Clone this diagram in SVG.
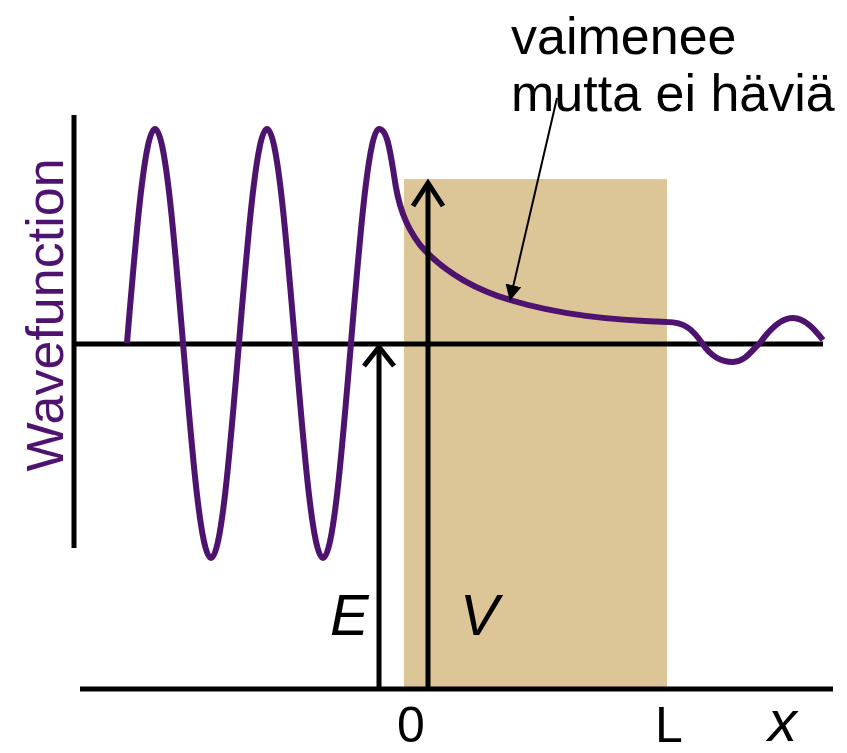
<svg xmlns="http://www.w3.org/2000/svg" width="847" height="753" viewBox="0 0 847 753">
<style>
.ax{stroke:#000;stroke-width:5;fill:none}
.arr{stroke:#000;stroke-width:5;fill:none;stroke-linecap:butt}
.wave{stroke:#4e136f;stroke-width:6;fill:none;stroke-linejoin:round}
.lbl{font-family:"Liberation Sans",Arial,sans-serif;fill:#000}
.it{font-style:italic;font-size:58px}
</style>
<defs>
<marker id="tri" markerWidth="16" markerHeight="16" refX="15" refY="8" orient="auto" markerUnits="userSpaceOnUse">
<path d="M0,0 L16,8 L0,16 Z" fill="#000"/>
</marker>
</defs>
<g id="barrier"><rect x="404" y="179" width="263" height="510" fill="#dcc597"/></g>
<g id="axes">
<line class="ax" x1="74" y1="115" x2="74" y2="548"/>
<line class="ax" x1="72" y1="344" x2="823" y2="344"/>
<line class="ax" x1="80" y1="689" x2="833" y2="689"/>
</g>
<g id="wavefunction">
<path class="wave" d="M127,343 C136.13,233.4 144.87,129 155,129 C165.13,129 173.87,233.4 183,343 C192.13,452.6 200.87,558 211,558 C221.13,558 229.87,452.6 239,343 C248.13,233.4 256.87,129 267,129 C277.13,129 285.87,233.4 295,343 C304.13,452.6 312.87,558 323,558 C333.13,558 341.87,452.6 351,343 C360.13,233.4 368.87,129 379,129 C387,129 390,150 394,175 C398,205 405,225 420,245 C440,268 470,288 510,300 C560,315 610,320 667,322 C685,322 693,330 702,343 C712,358 722,362 733,362 C745,362 752,350 760,343 C772,326 783,318 793,318 C805,318 815,330 823,340"/>
</g>
<g id="connectors">
<line class="arr" x1="379" y1="687" x2="379" y2="347"/>
<polyline class="arr" points="364,366 379,347 394,366"/>
<line class="arr" x1="428" y1="687" x2="428" y2="183"/>
<polyline class="arr" points="413,206 428,183 443,206"/>
<line x1="557" y1="98" x2="510" y2="300" stroke="#000" stroke-width="2" marker-end="url(#tri)"/>
</g>
<g id="labels">
<text class="lbl" x="511" y="54" font-size="52">vaimenee</text>
<text class="lbl" x="511" y="111" font-size="52">mutta ei häviä</text>
<text class="lbl" transform="translate(63,315) rotate(-90)" text-anchor="middle" font-size="52" style="fill:#4e136f">Wavefunction</text>
<text class="lbl it" x="330" y="635">E</text>
<text class="lbl it" x="460" y="635">V</text>
<text class="lbl" x="397" y="742" font-size="50">0</text>
<text class="lbl" x="655" y="742" font-size="50">L</text>
<text class="lbl it" x="768" y="741">x</text>
</g>
</svg>
